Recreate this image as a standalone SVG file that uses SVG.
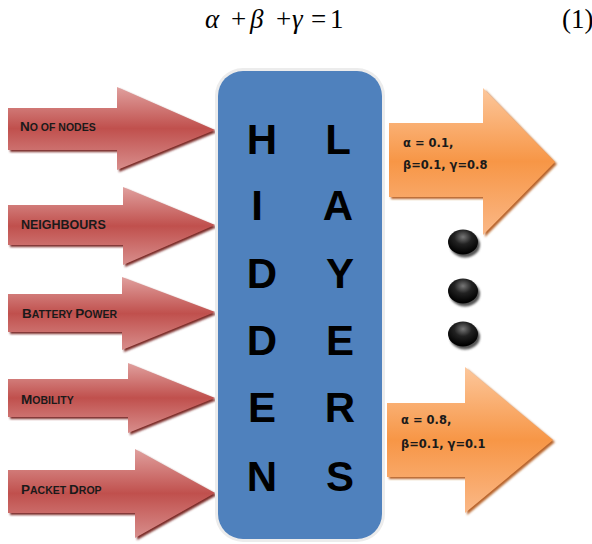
<svg xmlns="http://www.w3.org/2000/svg" width="592" height="544" viewBox="0 0 592 544">
<defs>
<linearGradient id="red" x1="0" y1="0" x2="0" y2="1">
<stop offset="0" stop-color="#e0a09e"/><stop offset="0.5" stop-color="#c0504d"/><stop offset="1" stop-color="#d88e8c"/>
</linearGradient>
<linearGradient id="org" x1="0" y1="0" x2="0" y2="1">
<stop offset="0" stop-color="#fcc79c"/><stop offset="0.5" stop-color="#f79646"/><stop offset="1" stop-color="#fab887"/>
</linearGradient>
<radialGradient id="dot" cx="0.5" cy="0.3" r="0.65">
<stop offset="0" stop-color="#777"/><stop offset="0.45" stop-color="#222"/><stop offset="1" stop-color="#000"/>
</radialGradient>
<filter id="blur" x="-10%" y="-10%" width="120%" height="120%"><feGaussianBlur stdDeviation="1.2"/></filter>
</defs>
<style>
.rs{fill:#7a2a28;filter:url(#blur)}
.ra{fill:url(#red)}
.os{fill:#b8642a;filter:url(#blur)}
.oa{fill:url(#org)}
.lbl{font-family:"Liberation Sans",Arial,sans-serif;font-weight:bold;fill:#1a1a1a}
.big{font-size:13.5px}
.sm{font-size:10.5px}
.let{font-family:"Liberation Sans",Arial,sans-serif;font-weight:bold;font-size:42px;fill:#000;text-anchor:middle}
.ot{font-family:"DejaVu Sans",Verdana,sans-serif;font-weight:bold;font-size:11.5px;fill:#1a1a1a}
.eq{font-family:"Liberation Serif","Times New Roman",serif;font-size:27px;fill:#000}
.it{font-style:italic}
</style>
<g id="equation">
<text class="eq it" x="205" y="28">α</text>
<text class="eq" x="231" y="28">+</text>
<text class="eq it" x="250" y="28">β</text>
<text class="eq" x="276" y="28">+</text>
<text class="eq it" x="292" y="28">γ</text>
<text class="eq" x="311" y="28">=</text>
<text class="eq" x="330" y="28">1</text>
<text class="eq" x="562" y="28" font-size="25">(1)</text>
</g>

<g id="connectors">
<g id="in1"><path class="rs" d="M10,110 L119,110 L119,89 L217,132 L119,172 L119,152 L10,152 Z"/><path class="ra" d="M8,108 L117,108 L117,87 L215,130 L117,170 L117,150 L8,150 Z"/>
<text class="lbl" x="20" y="131"><tspan class="big">N</tspan><tspan class="sm">O OF NODES</tspan></text></g>
<g id="in2"><path class="rs" d="M10,207 L125,207 L125,189 L217,227 L125,267 L125,247 L10,247 Z"/><path class="ra" d="M8,205 L123,205 L123,187 L215,225 L123,265 L123,245 L8,245 Z"/>
<text class="lbl" x="21" y="229" font-size="12.5">NEIGHBOURS</text></g>
<g id="in3"><path class="rs" d="M10,296 L124,296 L124,279 L217,314 L124,352 L124,334 L10,334 Z"/><path class="ra" d="M8,294 L122,294 L122,277 L215,312 L122,350 L122,332 L8,332 Z"/>
<text class="lbl" x="22" y="318"><tspan class="big">B</tspan><tspan class="sm">ATTERY </tspan><tspan class="big">P</tspan><tspan class="sm">OWER</tspan></text></g>
<g id="in4"><path class="rs" d="M10,381 L130,381 L130,365 L217,400 L130,435 L130,419 L10,419 Z"/><path class="ra" d="M8,379 L128,379 L128,363 L215,398 L128,433 L128,417 L8,417 Z"/>
<text class="lbl" x="21" y="404"><tspan class="big">M</tspan><tspan class="sm">OBILITY</tspan></text></g>
<g id="in5"><path class="rs" d="M10,472 L137,472 L137,451 L217,495 L137,540 L137,515 L10,515 Z"/><path class="ra" d="M8,470 L135,470 L135,449 L215,493 L135,538 L135,513 L8,513 Z"/>
<text class="lbl" x="21" y="494"><tspan class="big">P</tspan><tspan class="sm">ACKET </tspan><tspan class="big">D</tspan><tspan class="sm">ROP</tspan></text></g>
<g id="out1"><path class="os" d="M391,125 L485,125 L485,90 L557,164 L485,237 L485,199 L391,199 Z"/><path class="oa" d="M389,123 L483,123 L483,88 L555,162 L483,235 L483,197 L389,197 Z"/>
<text class="ot" x="403" y="147">α = 0.1,</text><text class="ot" x="403" y="169">β=0.1, γ=0.8</text></g>
<g id="out2"><path class="os" d="M389,405 L467,405 L467,369 L555,442 L467,515 L467,479 L389,479 Z"/><path class="oa" d="M387,403 L465,403 L465,367 L553,440 L465,513 L465,477 L387,477 Z"/>
<text class="ot" x="401" y="424">α = 0.8,</text><text class="ot" x="401" y="448">β=0.1, γ=0.1</text></g>
</g>

<g id="hidden">
<rect x="215" y="68" width="170" height="474" rx="28" fill="#ececec"/>
<rect x="218" y="71" width="164" height="468" rx="25" fill="#4f81bd"/>
<text class="let" x="262" y="154">H</text><text class="let" x="338" y="154">L</text>
<text class="let" x="257" y="220">I</text><text class="let" x="338" y="220">A</text>
<text class="let" x="262" y="288">D</text><text class="let" x="340" y="288">Y</text>
<text class="let" x="262" y="355">D</text><text class="let" x="340" y="355">E</text>
<text class="let" x="262" y="422">E</text><text class="let" x="340" y="422">R</text>
<text class="let" x="262" y="491">N</text><text class="let" x="340" y="491">S</text>
</g>

<g id="dots">
<ellipse cx="465" cy="245" rx="15" ry="12.5" fill="#555" filter="url(#blur)"/>
<ellipse cx="463" cy="242" rx="15" ry="12.5" fill="url(#dot)"/>
<ellipse cx="465" cy="294" rx="15" ry="12.5" fill="#555" filter="url(#blur)"/>
<ellipse cx="463" cy="291" rx="15" ry="12.5" fill="url(#dot)"/>
<ellipse cx="465" cy="337" rx="15" ry="12.5" fill="#555" filter="url(#blur)"/>
<ellipse cx="463" cy="334" rx="15" ry="12.5" fill="url(#dot)"/>
</g>
</svg>
